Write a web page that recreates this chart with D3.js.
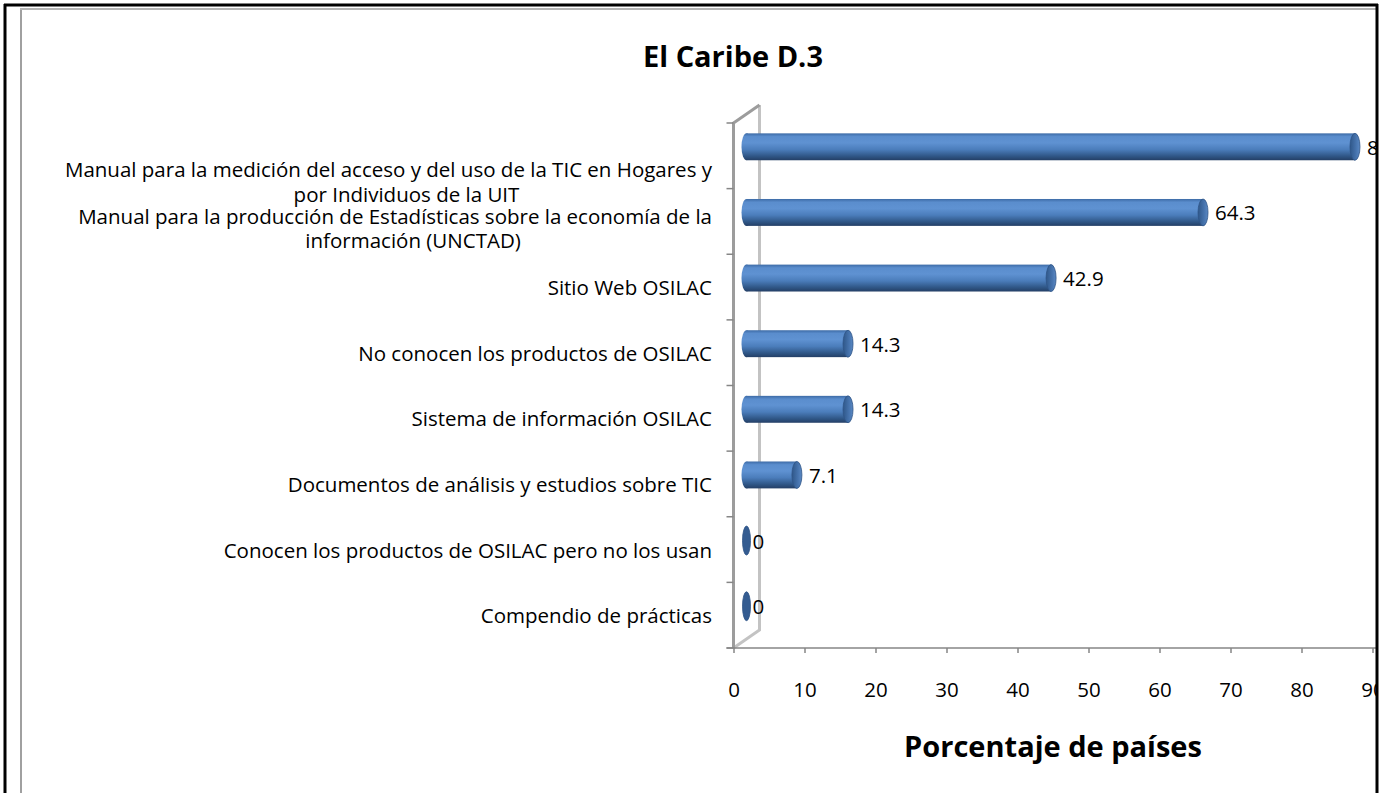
<!DOCTYPE html>
<html>
<head>
<meta charset="utf-8">
<script src="https://cdn.jsdelivr.net/npm/d3@7"></script>
<style>
    body { margin: 0; background: #fff; }
    text { font-family: "Open Sans", "Noto Sans", sans-serif; fill: #000; }
</style>
</head>
<body>
<div id="chart"></div>
<script>
//constant and globals
const width = 1381,
    height = 793,
    margin = { top: 123, bottom: 145, left: 733.5, right: 8.5 },
    depth = { dx: 26, dy: -18 },
    labelSize = "20.5px";

// data (percent of 14 countries)
const categories = [
    "Manual para la medición del acceso y del uso de la TIC en Hogares y|por Individuos de la UIT",
    "Manual para la producción de Estadísticas  sobre la economía de la|información (UNCTAD)",
    "Sitio Web OSILAC",
    "No conocen los productos de OSILAC",
    "Sistema de información OSILAC",
    "Documentos de análisis y estudios sobre TIC",
    "Conocen los productos de OSILAC pero no los usan",
    "Compendio de prácticas"
];
const values = [85.7, 64.3, 42.9, 14.3, 14.3, 7.1, 0, 0];
const xTicks = [0, 10, 20, 30, 40, 50, 60, 70, 80, 90];
const title = "El Caribe D.3";
const xTitle = "Porcentaje de países";

const data = categories.map((c, i) => ({ cat: c, value: values[i] }));

let svg;

//scales
const xScale = d3.scaleLinear()
    .domain([0, 90])
    .range([margin.left, width - margin.right]);

const yScale = d3.scaleBand()
    .domain(categories)
    .range([margin.top, height - margin.bottom])
    .padding(0);

svg = d3.select("#chart")
    .append("svg")
    .attr("width", width)
    .attr("height", height);

const defs = svg.append("defs");

// bar body gradient (vertical, cylinder look)
const body = defs.append("linearGradient")
    .attr("id", "barBody")
    .attr("x1", 0).attr("y1", 0).attr("x2", 0).attr("y2", 1);
[[0, "#3d6ba6"], [0.12, "#5a8dcd"], [0.35, "#5f92d2"], [0.6, "#4b7dbb"], [0.85, "#2f5686"], [1, "#243f66"]]
    .forEach(s => body.append("stop").attr("offset", s[0]).attr("stop-color", s[1]));

const cap = defs.append("linearGradient")
    .attr("id", "barCap")
    .attr("x1", 0).attr("y1", 0).attr("x2", 1).attr("y2", 0);
[[0, "#2f5789"], [0.6, "#4673ad"], [1, "#5b89c4"]]
    .forEach(s => cap.append("stop").attr("offset", s[0]).attr("stop-color", s[1]));

defs.append("clipPath")
    .attr("id", "plotClip")
    .append("rect")
    .attr("x", 0).attr("y", 0)
    .attr("width", 1376).attr("height", height);

const g = svg.append("g").attr("clip-path", "url(#plotClip)");

// title
g.append("text")
    .attr("x", 733)
    .attr("y", 55)
    .attr("text-anchor", "middle")
    .attr("dominant-baseline", "central")
    .style("font-size", "29px")
    .style("font-weight", "bold")
    .text(title);

// 3d side wall
const x0 = xScale(0),
    yTop = margin.top,
    yBot = height - margin.bottom;

g.append("path")
    .attr("d", `M${x0 + depth.dx},${yTop + depth.dy} L${x0 + depth.dx},${yBot + depth.dy} L${x0},${yBot}`)
    .attr("fill", "none")
    .attr("stroke", "#c3c3c3")
    .attr("stroke-width", 3);

g.append("path")
    .attr("d", `M${x0},${yBot} L${x0},${yTop} L${x0 + depth.dx},${yTop + depth.dy}`)
    .attr("fill", "none")
    .attr("stroke", "#9c9c9c")
    .attr("stroke-width", 3);

// y ticks
g.append("g")
    .selectAll("line")
    .data(d3.range(categories.length + 1))
    .join("line")
    .attr("x1", x0 - 7)
    .attr("x2", x0)
    .attr("y1", i => yTop + i * yScale.step())
    .attr("y2", i => yTop + i * yScale.step())
    .attr("stroke", "#868686")
    .attr("stroke-width", 1.5);

// x axis
const xAxis = d3.axisBottom(xScale)
    .tickValues(xTicks)
    .tickSize(5)
    .tickPadding(29)
    .tickFormat(d3.format("d"));

const ax = g.append("g")
    .attr("class", "axis x-axis")
    .attr("transform", `translate(0,${yBot})`)
    .call(xAxis);

ax.select(".domain")
    .attr("d", `M${x0 - 7},0H${width}`)
    .attr("stroke", "#868686")
    .attr("stroke-width", 1.5);
ax.selectAll(".tick line").attr("stroke", "#868686").attr("stroke-width", 1.5);
ax.selectAll(".tick text")
    .style("font-size", labelSize)
    .attr("fill", "#000");

// x axis title
g.append("text")
    .attr("x", 1053)
    .attr("y", 745)
    .attr("text-anchor", "middle")
    .attr("dominant-baseline", "central")
    .style("font-size", "29px")
    .style("font-weight", "bold")
    .text(xTitle);

// category labels
const labels = g.append("g")
    .selectAll("text")
    .data(data)
    .join("text")
    .attr("text-anchor", "end")
    .style("font-size", labelSize)
    .attr("transform", (d, i) => {
        const lines = d.cat.split("|");
        let cy = yScale(d.cat) + yScale.bandwidth() / 2;
        if (lines.length > 1) cy += i === 0 ? 26 : 7;   // excel pushes the first wrapped label down
        return `translate(712,${cy - (lines.length - 1) * 12.5})`;
    });

labels.selectAll("tspan")
    .data(d => d.cat.split("|"))
    .join("tspan")
    .attr("x", 0)
    .attr("y", (d, i) => i * 24.5)
    .attr("dominant-baseline", "central")
    .text(d => d);

// wrapped second lines sit centred under the first line
labels.each(function () {
    const spans = d3.select(this).selectAll("tspan");
    if (spans.size() < 2) return;
    const w = spans.nodes()[0].getComputedTextLength();
    d3.select(spans.nodes()[1])
        .attr("text-anchor", "middle")
        .attr("x", -w / 2 + 18);
});

// bars (cylinders at mid depth)
const barH = yScale.bandwidth() * 0.41;
const bars = g.append("g")
    .attr("transform", `translate(${depth.dx / 2},${depth.dy / 2})`)
    .selectAll("g.bar")
    .data(data)
    .join("g")
    .attr("class", "bar");

const cyOf = d => yScale(d.cat) + yScale.bandwidth() / 2;

bars.filter(d => d.value > 0)
    .append("ellipse")
    .attr("cx", x0)
    .attr("cy", cyOf)
    .attr("rx", 5)
    .attr("ry", barH / 2)
    .attr("fill", "url(#barBody)");

bars.filter(d => d.value > 0)
    .append("rect")
    .attr("x", x0)
    .attr("y", d => cyOf(d) - barH / 2)
    .attr("width", d => xScale(d.value) - x0)
    .attr("height", barH)
    .attr("fill", "url(#barBody)");

bars.append("ellipse")
    .attr("cx", d => xScale(d.value))
    .attr("cy", cyOf)
    .attr("rx", d => d.value > 0 ? 5 : 4)
    .attr("ry", d => d.value > 0 ? barH / 2 : barH / 2 + 1)
    .attr("fill", d => d.value > 0 ? "url(#barCap)" : "#345c91")
    .attr("stroke", "#2f5487")
    .attr("stroke-width", 0.8);

// value labels
bars.append("text")
    .attr("x", d => xScale(d.value) + (d.value > 0 ? 12 : 6))
    .attr("y", cyOf)
    .attr("dominant-baseline", "central")
    .style("font-size", labelSize)
    .text(d => d.value);

// frame
const frame = svg.append("g");
frame.append("line").attr("x1", 21).attr("x2", 21).attr("y1", 8).attr("y2", height)
    .attr("stroke", "#a0a0a0").attr("stroke-width", 2);
frame.append("line").attr("x1", 20).attr("x2", 1376).attr("y1", 9).attr("y2", 9)
    .attr("stroke", "#b4b4b4").attr("stroke-width", 2);
frame.append("line").attr("x1", 5).attr("x2", 5).attr("y1", 4).attr("y2", height)
    .attr("stroke", "#000").attr("stroke-width", 3);
frame.append("line").attr("x1", 4).attr("x2", 1378).attr("y1", 5).attr("y2", 5)
    .attr("stroke", "#000").attr("stroke-width", 3);
frame.append("line").attr("x1", 1377).attr("x2", 1377).attr("y1", 4).attr("y2", height)
    .attr("stroke", "#000").attr("stroke-width", 3);
</script>
</body>
</html>
